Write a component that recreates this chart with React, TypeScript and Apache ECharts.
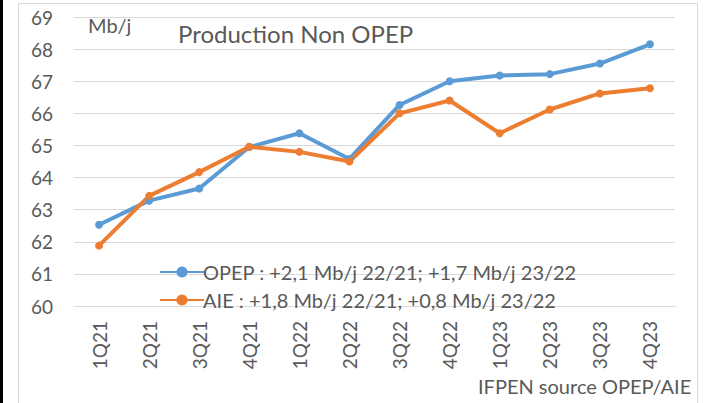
import React, { useEffect, useRef } from "react";
import * as echarts from "echarts";

const categories = ["1Q21", "2Q21", "3Q21", "4Q21", "1Q22", "2Q22", "3Q22", "4Q22", "1Q23", "2Q23", "3Q23", "4Q23"];
const opepValues = [62.53, 63.28, 63.66, 64.95, 65.38, 64.58, 66.26, 67.0, 67.18, 67.22, 67.55, 68.15];
const aieValues = [61.88, 63.43, 64.17, 64.96, 64.8, 64.5, 66.0, 66.4, 65.38, 66.12, 66.62, 66.78];
const opepName = "OPEP : +2,1 Mb/j 22/21; +1,7 Mb/j 23/22";
const aieName = "AIE : +1,8 Mb/j 22/21; +0,8 Mb/j 23/22";
const yMin = 60;
const yMax = 69;

const FONT = "Lato, 'Open Sans', sans-serif";
const GRAY = "#595959";

export default function App() {
  const ref = useRef<HTMLDivElement>(null);
  useEffect(() => {
    if (!ref.current) return;
    const chart = echarts.init(ref.current, undefined, { renderer: "svg" });
    chart.setOption({
      animation: false,
      backgroundColor: "#ffffff",
      textStyle: { fontFamily: FONT },
      grid: { left: 74, right: 32, top: 17, bottom: 97 },
      xAxis: {
        type: "category",
        data: categories,
        boundaryGap: true,
        axisLine: { lineStyle: { color: "#d9d9d9", width: 1 } },
        axisTick: { show: false },
        axisLabel: { rotate: 90, fontSize: 19, color: GRAY, margin: 15, fontFamily: FONT },
      },
      yAxis: {
        type: "value",
        min: yMin,
        max: yMax,
        interval: 1,
        axisLine: { show: false },
        axisTick: { show: false },
        splitLine: { lineStyle: { color: "#d9d9d9", width: 1 } },
        axisLabel: { fontSize: 19, color: GRAY, margin: 21, fontFamily: FONT },
      },
      legend: {
        orient: "vertical",
        left: 154,
        top: 257,
        itemWidth: 44,
        itemHeight: 14,
        itemGap: 8,
        textStyle: { fontSize: 20, color: GRAY, fontFamily: FONT, padding: [0, 0, 0, -6] },
        data: [opepName, aieName],
      },
      series: [
        {
          name: opepName,
          type: "line",
          data: opepValues,
          symbol: "circle",
          symbolSize: 8,
          color: "#5B9BD5",
          lineStyle: { width: 4, color: "#5B9BD5" },
          itemStyle: { color: "#5B9BD5" },
        },
        {
          name: aieName,
          type: "line",
          data: aieValues,
          symbol: "circle",
          symbolSize: 8,
          color: "#ED7D31",
          lineStyle: { width: 4, color: "#ED7D31" },
          itemStyle: { color: "#ED7D31" },
        },
      ],
      graphic: [
        {
          type: "rect",
          shape: { x: 18.5, y: 3.5, width: 679, height: 420 },
          style: { fill: "none", stroke: "#d9d9d9", lineWidth: 1 },
          silent: true,
          z: -1,
        },
        {
          type: "rect",
          shape: { x: 0, y: 0, width: 3, height: 403 },
          style: { fill: "#000000" },
          silent: true,
        },
        {
          type: "text",
          x: 88,
          y: 15,
          style: { text: "Mb/j", fontSize: 20, fill: GRAY, fontFamily: FONT },
        },
        {
          type: "text",
          x: 178,
          y: 21,
          style: { text: "Production Non OPEP", fontSize: 24, fill: GRAY, fontFamily: FONT },
        },
        {
          type: "text",
          x: 478,
          y: 376,
          style: { text: "IFPEN source OPEP/AIE", fontSize: 20, fill: GRAY, fontFamily: FONT },
        },
      ],
    });
    return () => chart.dispose();
  }, []);
  return (
    <div
      ref={ref}
      style={{ position: "fixed", left: 0, top: 0, width: 707, height: 403 }}
    />
  );
}
